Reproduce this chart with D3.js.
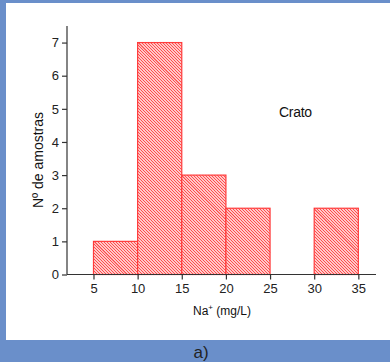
<!DOCTYPE html>
<html><head><meta charset="utf-8">
<script src="https://cdn.jsdelivr.net/npm/d3@7/dist/d3.min.js"></script>
<style>html,body{margin:0;padding:0;background:#6a8fca;}svg{display:block;}</style>
</head><body>
<script>
const binStarts = [5, 10, 15, 20, 30];
const binEnds   = [10, 15, 20, 25, 35];
const counts    = [1, 7, 3, 2, 2];
const xTicks = [5, 10, 15, 20, 25, 30, 35];
const yTicks = [0, 1, 2, 3, 4, 5, 6, 7];

const W = 390, H = 362;
const svg = d3.select("body").append("svg").attr("width", W).attr("height", H);
svg.append("rect").attr("width", W).attr("height", H).attr("fill", "#6a8fca");
svg.append("rect").attr("x", 6).attr("y", 3).attr("width", 384).attr("height", 337).attr("fill", "#fff");

const x = d3.scaleLinear().domain([2, 37]).range([67, 376]);
const y = d3.scaleLinear().domain([0, 7.5]).range([274.5, 26]);

const defs = svg.append("defs");
const pat = defs.append("pattern").attr("id", "hatch").attr("patternUnits", "userSpaceOnUse")
  .attr("width", 3).attr("height", 3);
pat.append("rect").attr("width", 3).attr("height", 3).attr("fill", "#fff");
pat.append("path").attr("d", "M-1,-1L4,4M-1,2L1,4M2,-1L4,1")
  .attr("stroke", "#ff4444").attr("stroke-width", 1.1);

const bars = binStarts.map((s, i) => ({s, e: binEnds[i], c: counts[i]}));
const g = svg.append("g");
g.selectAll("rect.bar").data(bars).enter().append("rect")
  .attr("x", d => x(d.s)).attr("y", d => y(d.c))
  .attr("width", d => x(d.e) - x(d.s)).attr("height", d => y(0) - y(d.c))
  .attr("fill", "url(#hatch)").attr("stroke", "#ff3b3b").attr("stroke-width", 1.2);
g.selectAll("line.diag").data(bars).enter().append("line")
  .attr("x1", d => x(d.s)).attr("y1", d => y(d.c))
  .attr("x2", d => x(d.s) + Math.min(x(d.e) - x(d.s), y(0) - y(d.c)))
  .attr("y2", d => y(d.c) + Math.min(x(d.e) - x(d.s), y(0) - y(d.c)))
  .attr("stroke", "#f21a1a").attr("stroke-width", 0.8).attr("stroke-opacity", 0.5);

const font = "'Liberation Sans', Arial, sans-serif";
// x axis
const xAx = svg.append("g").attr("transform", `translate(0,${y(0)})`);
xAx.call(d3.axisBottom(x).tickValues(d3.range(2.5, 37, 2.5).filter(v => v % 5 !== 0)).tickSize(3).tickFormat(""));
xAx.call(d3.axisBottom(x).tickValues(xTicks).tickSize(5).tickSizeOuter(0).tickPadding(4));
xAx.selectAll("path.domain").attr("d", `M${x(2)},0H${x(37)}`);
xAx.selectAll("path,line").attr("stroke", "#333").attr("stroke-width", 1.2);
xAx.selectAll("text").attr("font-family", font).attr("font-size", 13).attr("fill", "#222");

const yAx = svg.append("g").attr("transform", `translate(${x(2)},0)`);
yAx.call(d3.axisLeft(y).tickValues(d3.range(0.5, 7.6, 1)).tickSize(3).tickFormat(""));
yAx.call(d3.axisLeft(y).tickValues(yTicks).tickSize(5).tickSizeOuter(0).tickPadding(3));
yAx.selectAll("path.domain").attr("d", `M0,${y(0)}V${y(7.5)}`);
yAx.selectAll("path,line").attr("stroke", "#333").attr("stroke-width", 1.2);
yAx.selectAll("text").attr("font-family", font).attr("font-size", 13).attr("fill", "#222");

// titles
const xt = svg.append("text").attr("x", 222).attr("y", 315).attr("text-anchor", "middle")
  .attr("font-family", font).attr("font-size", 12).attr("fill", "#111");
xt.append("tspan").text("Na");
xt.append("tspan").attr("dy", -5).attr("font-size", 8).text("+");
xt.append("tspan").attr("dy", 5).text(" (mg/L)");

svg.append("text").attr("transform", "translate(43,160) rotate(-90)").attr("text-anchor", "middle")
  .attr("font-family", font).attr("font-size", 14).attr("fill", "#111").text("Nº de amostras");

svg.append("text").attr("x", 279).attr("y", 117).attr("font-family", font).attr("font-size", 14)
  .attr("fill", "#111").attr("letter-spacing", -0.3).text("Crato");

svg.append("text").attr("x", 201).attr("y", 358).attr("text-anchor", "middle").attr("font-family", font)
  .attr("font-size", 17).attr("fill", "#222").text("a)");
</script>
</body></html>
